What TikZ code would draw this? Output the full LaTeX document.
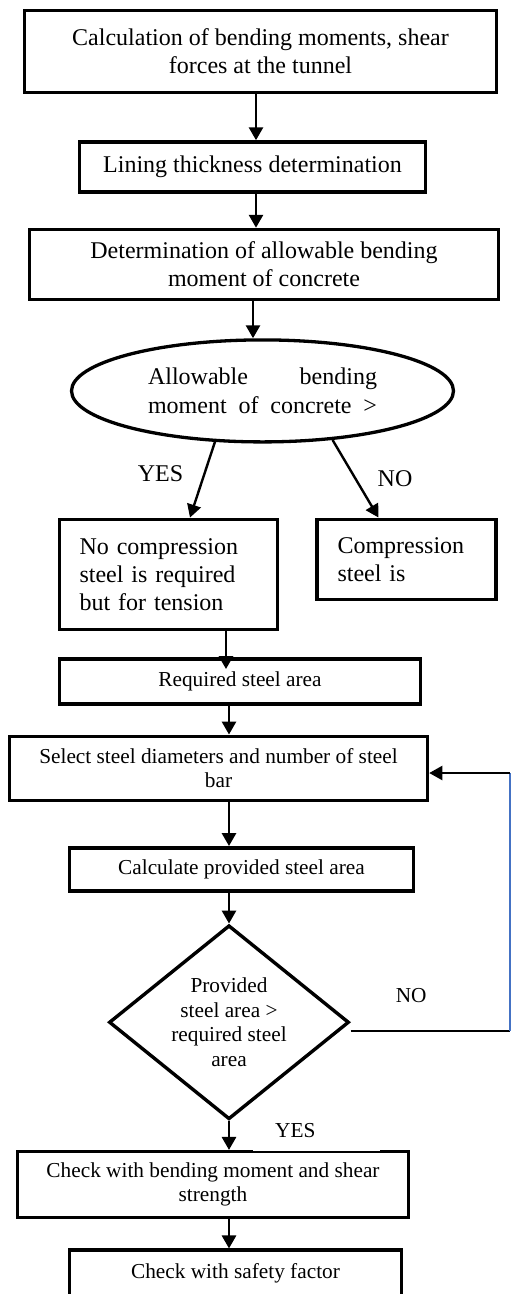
\documentclass[tikz,border=0pt]{standalone}
\usepackage{fontspec}
\setmainfont{Liberation Serif}
\usetikzlibrary{arrows.meta,positioning,shapes.geometric}
\definecolor{loopblue}{RGB}{68, 114, 196}
\tikzset{
 procbox/.style={
 rectangle,
 draw=black,
 line width=3.5pt,
 align=center,
 inner sep=2pt,
 font=\fontsize{24}{28}\selectfont
 },
 stepbox/.style={
 procbox,
 font=\fontsize{21.3}{24}\selectfont
 },
 decision/.style={
 ellipse,
 draw=black,
 line width=3.3pt,
 inner sep=0pt,
 align=center,
 font=\fontsize{24}{29}\selectfont
 },
 areatest/.style={
 diamond,
 draw=black,
 line width=3.4pt,
 inner sep=-6pt,
 align=center,
 font=\fontsize{21.3}{24.5}\selectfont
 },
 tag/.style={inner sep=0pt, font=\fontsize{24}{28}\selectfont},
 smalltag/.style={inner sep=0pt, font=\fontsize{21.3}{24}\selectfont},
 flowarrow/.style={-{Triangle[length=13pt,width=14pt]}, line width=2.8pt, draw=black},
 branch/.style={-{Triangle[length=13pt,width=14pt]}, line width=2.4pt, draw=black}
}

\begin{document}
\begin{tikzpicture}[x=1pt, y=1pt]
	\useasboundingbox (0,0) rectangle (512,-1294);
	\clip (0,0) rectangle (512,-1294);

	\node[procbox, minimum width=472pt, minimum height=82pt] (calc) at (260.5,-51.5) {Calculation of bending moments, shear\\forces at the tunnel};
	\node[procbox, minimum width=346pt, minimum height=50pt, below=46pt of calc, xshift=-8pt] (lining) {Lining thickness determination};
	\node[procbox, minimum width=469pt, minimum height=70pt, below=34pt of lining, xshift=11.5pt] (allow) {Determination of allowable bending\\moment of concrete};
	\node[decision, minimum width=382pt, minimum height=102pt, below=37pt of allow, xshift=-1.5pt] (cmp) {\makebox[229pt][s]{Allowable bending}\\\makebox[229pt][s]{moment of concrete >}};

	\node[procbox, minimum width=218pt, minimum height=110pt, text width=178pt, align=left, below=74pt of cmp, xshift=-94pt] (nocomp) {No compression\\steel is required\\but for tension};
	\node[procbox, minimum width=179pt, minimum height=80pt, text width=138pt, align=left, right=36pt of nocomp.north east, anchor=north west] (comp) {Compression\\steel is};

	\node[stepbox, minimum width=361pt, minimum height=45pt, below=26pt of nocomp, xshift=71.5pt] (req) {Required steel area};
	\node[stepbox, minimum width=418pt, minimum height=64pt, below=29pt of req, xshift=-21.5pt] (sel) {Select steel diameters and number of steel\\bar};
	\node[stepbox, minimum width=344pt, minimum height=43pt, below=44pt of sel, xshift=23pt] (cpa) {Calculate provided steel area};
	\node[areatest, minimum width=240pt, minimum height=194pt, below=31pt of cpa, xshift=-12.5pt] (area) {Provided\\steel area >\\required steel\\area};
	\node[stepbox, minimum width=391pt, minimum height=66pt, below=29pt of area, xshift=-16pt] (chk) {Check with bending moment and shear\\strength};
	\node[stepbox, minimum width=332pt, text height=14pt, text depth=16pt, inner ysep=14pt, below=29pt of chk, xshift=22.5pt] (safe) {Check with safety factor};

	% YES tag sits on a white patch over the top edge
	\node[smalltag, fill=white, anchor=south west, minimum width=127pt, minimum height=41pt, text width=83pt, inner xsep=22pt, align=left] (yes2) at ([xshift=40pt,yshift=-1.5pt]chk.north) {YES};

	\coordinate (loopbot) at (510,-1031);
	\coordinate (looptop) at (510,-773);

	\draw[flowarrow] ([xshift=-4.5pt]calc.south) -- ([xshift=-4.5pt]calc.south |- lining.north);
	\draw[flowarrow] ([xshift=3.5pt]lining.south) -- ([xshift=3.5pt]lining.south |- allow.north);
	\draw[flowarrow] ([xshift=-11pt]allow.south) -- ([xshift=-11pt]allow.south |- cmp.north);

	\draw[branch] (cmp.227) -- node[tag, pos=0.42, left=20pt] (yes1) {YES} ([xshift=21.5pt]nocomp.north);
	\draw[branch] (cmp.325) -- node[tag, pos=0.5, right=21pt] (no1) {NO} ([xshift=-28pt]comp.north);

	% this one runs through the top edge of the box below
	\draw[flowarrow, shorten >=-12pt] ([xshift=57.5pt]nocomp.south) -- ([xshift=57.5pt]nocomp.south |- req.north);
	\draw[flowarrow] (req.south -| area.north) -- (sel.north -| area.north);
	\draw[flowarrow] (sel.south -| area.north) -- (cpa.north -| area.north);
	\draw[flowarrow] (cpa.south -| area.north) -- (area.north);
	\draw[flowarrow] (area.south) -- (chk.north -| area.south);
	\draw[flowarrow] (chk.south -| area.south) -- (safe.north -| area.south);

	% NO loop back to the bar selection
	\draw[line width=2pt] (area.east |- loopbot) -- node[smalltag, pos=0.38, above=27pt] (no2) {NO} (loopbot);
	\draw[loopblue, line width=2pt] (loopbot) -- (looptop);
	\draw[flowarrow, line width=2pt] (looptop) -- (looptop -| sel.east);
\end{tikzpicture}
\end{document}
